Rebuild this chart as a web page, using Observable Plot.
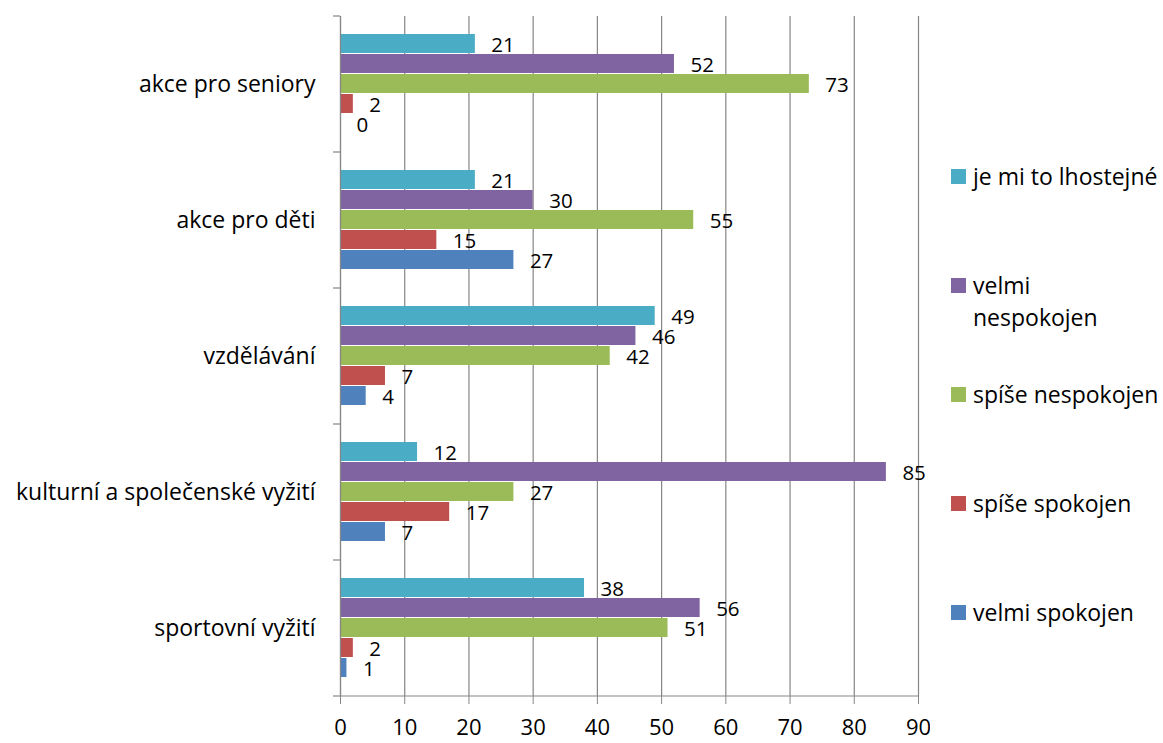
<!DOCTYPE html>
<html>
<head>
<meta charset="utf-8">
<script src="https://cdn.jsdelivr.net/npm/d3@7"></script>
<script src="https://cdn.jsdelivr.net/npm/@observablehq/plot@0.6"></script>
<style>
  html, body { margin: 0; padding: 0; background: #fff; }
  #wrap { position: relative; width: 1163px; height: 743px; font-family: "Open Sans", sans-serif; }
  #chart { position: absolute; left: 0; top: 0; }
  #legend { position: absolute; left: 951px; top: 160px; display: flex; flex-direction: column; }
  .item { height: 109px; display: flex; align-items: flex-start; font-size: 23px; line-height: 32px; color: #000; white-space: nowrap; }
  .sw { width: 15px; height: 15px; margin-top: 9px; margin-right: 7px; flex: none; }
</style>
</head>
<body>
<div id="wrap">
  <div id="chart"></div>
  <div id="legend"></div>
</div>
<script>
const categories = ["akce pro seniory", "akce pro děti", "vzdělávání", "kulturní a společenské vyžití", "sportovní vyžití"];
const series = ["je mi to lhostejné", "velmi nespokojen", "spíše nespokojen", "spíše spokojen", "velmi spokojen"];
const seriesColors = ["#4BACC6", "#8064A2", "#9BBB59", "#C0504D", "#4F81BD"];
const jeMiToLhostejne = [21, 21, 49, 12, 38];
const velmiNespokojen = [52, 30, 46, 85, 56];
const spiseNespokojen = [73, 55, 42, 27, 51];
const spiseSpokojen = [2, 15, 7, 17, 2];
const velmiSpokojen = [0, 27, 4, 7, 1];
const xTicks = [0, 10, 20, 30, 40, 50, 60, 70, 80, 90];

const seriesValues = [jeMiToLhostejne, velmiNespokojen, spiseNespokojen, spiseSpokojen, velmiSpokojen];
const data = categories.flatMap((c, i) => series.map((s, j) => ({category: c, series: s, value: seriesValues[j][i]})));

const gray = "#868686";
const plot = Plot.plot({
  width: 930,
  height: 743,
  marginLeft: 340,
  marginRight: 12,
  marginTop: 15,
  marginBottom: 46,
  style: {fontFamily: "'Open Sans', sans-serif", fontSize: "22px", color: "black", background: "white"},
  x: {domain: [0, 90]},
  y: {domain: series, paddingInner: 0, paddingOuter: 0.75, axis: null},
  fy: {domain: categories, padding: 0},
  color: {domain: series, range: seriesColors},
  marks: [
    Plot.gridX(xTicks, {stroke: gray, strokeOpacity: 1, strokeWidth: 1.2}),
    Plot.barX(data, {fy: "category", y: "series", x: "value", fill: "series", insetBottom: 1}),
    Plot.ruleX([0], {stroke: gray, strokeWidth: 1.2}),
    Plot.text(data, {fy: "category", y: "series", x: "value", text: d => String(d.value), textAnchor: "start", dx: 16, dy: 1, fill: "black", fontSize: 20.5}),
    Plot.axisX(xTicks, {tickSize: 8, tickPadding: 15, stroke: gray, fill: "black", fontSize: 22, label: null}),
    Plot.axisFy({anchor: "left", tickSize: 0, tickPadding: 25, label: null, fontSize: 23, fill: "black"})
  ]
});
document.getElementById("chart").appendChild(plot);

// axis line and boundary ticks, placed through the plot's own scales
const xs = plot.scale("x");
const fys = plot.scale("fy");
const bounds = fys.domain.map(d => fys.apply(d)).concat([fys.apply(fys.domain[fys.domain.length - 1]) + fys.bandwidth]);
const g = d3.select(plot).append("g").attr("stroke", gray).attr("stroke-width", 1.2);
g.selectAll("line.b").data(bounds).join("line")
  .attr("x1", xs.apply(0) - 7).attr("x2", xs.apply(0))
  .attr("y1", d => d).attr("y2", d => d);
g.append("line")
  .attr("x1", xs.apply(0)).attr("x2", xs.apply(90))
  .attr("y1", bounds[bounds.length - 1]).attr("y2", bounds[bounds.length - 1]);

// legend
const legend = d3.select("#legend");
const legendLabels = ["je mi to lhostejné", "velmi<br>nespokojen", "spíše nespokojen", "spíše spokojen", "velmi spokojen"];
series.forEach((s, i) => {
  const it = legend.append("div").attr("class", "item");
  it.append("div").attr("class", "sw").style("background", seriesColors[i]);
  it.append("div").html(legendLabels[i]);
});
</script>
</body>
</html>
